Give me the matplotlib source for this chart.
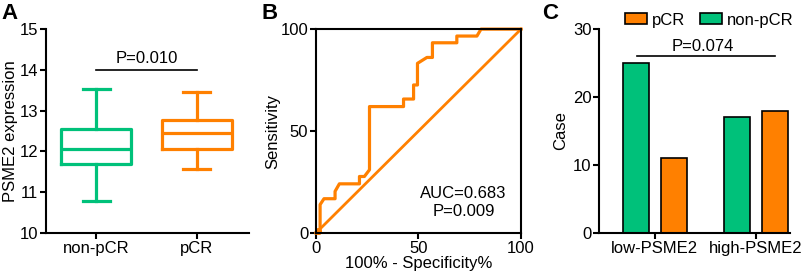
import numpy as np
import matplotlib.pyplot as plt
from matplotlib.patches import Patch

plt.rcParams['font.family'] = ['Liberation Sans', 'DejaVu Sans']
plt.rcParams['font.size'] = 12

green = '#00C17A'
orange = '#FF8000'

# A: box plot summary (whisker low, Q1, median, Q3, whisker high)
box_groups = ['non-pCR', 'pCR']
box_stats = [[10.78, 11.68, 12.05, 12.55, 13.52],
             [11.58, 12.07, 12.45, 12.78, 13.45]]
box_colors = [green, orange]

# B: ROC curve
roc_fpr = [0, 2.0, 2.0, 3.9, 9.3, 9.3, 11.4, 21.2, 21.2, 23.6, 26.1, 26.1, 42.7, 42.7,
           47.6, 47.6, 49.5, 49.5, 54.1, 56.8, 56.8, 68.7, 68.7, 78.5, 80.5, 100]
roc_tpr = [0, 0, 13.9, 16.8, 16.8, 20.4, 24.1, 24.1, 27.7, 27.7, 31.0, 62.0, 62.0, 65.7,
           65.7, 72.6, 72.6, 83.2, 86.1, 86.1, 93.3, 93.3, 96.6, 96.6, 100, 100]

# C: case counts
bar_groups = ['low-PSME2', 'high-PSME2']
pcr_cases = [11, 18]
nonpcr_cases = [25, 17]

fig = plt.figure(figsize=(8.09, 2.8), dpi=100)
bottom, height = 0.168, 0.728
axA = fig.add_axes([0.0569, bottom, 0.2509, height])
axB = fig.add_axes([0.3906, bottom, 0.2534, height])
axC = fig.add_axes([0.7404, bottom, 0.2361, height])

# ---- A ----
bxp = []
for name, s in zip(box_groups, box_stats):
    bxp.append({'label': name, 'whislo': s[0], 'q1': s[1], 'med': s[2],
                'q3': s[3], 'whishi': s[4], 'fliers': []})
res = axA.bxp(bxp, positions=[0, 1], widths=0.7, showfliers=False,
              patch_artist=False)
for i, c in enumerate(box_colors):
    for key in ['boxes', 'medians']:
        res[key][i].set_color(c)
        res[key][i].set_linewidth(2.3)
    for key in ['whiskers', 'caps']:
        for ln in res[key][2 * i:2 * i + 2]:
            ln.set_color(c)
            ln.set_linewidth(2.3)
for ln in res['caps']:
    x = ln.get_xdata()
    m = x.mean()
    ln.set_xdata([m - 0.135, m + 0.135])
axA.set_xlim(-0.5, 1.52)
axA.set_ylim(10, 15)
axA.set_yticks([10, 11, 12, 13, 14, 15])
axA.set_xticks([0, 1])
axA.set_xticklabels(box_groups)
axA.set_ylabel('PSME2 expression', labelpad=1)
axA.plot([0, 1], [14.0, 14.0], color='black', lw=1.2)
axA.text(0.5, 14.1, 'P=0.010', ha='center', va='bottom')
for sp in ['top', 'right']:
    axA.spines[sp].set_visible(False)

# ---- B ----
axB.plot(roc_fpr, roc_tpr, color=orange, lw=2.3, clip_on=False)
axB.plot([0, 100], [0, 100], color=orange, lw=2.0, clip_on=False)
axB.plot([0.8], [0.8], 'o', color=orange, ms=4, clip_on=False)
axB.set_xlim(0, 100)
axB.set_ylim(0, 100)
axB.set_xticks([0, 50, 100])
axB.set_yticks([0, 50, 100])
axB.set_xlabel('100% - Specificity%', labelpad=0)
axB.set_ylabel('Sensitivity', labelpad=0)
axB.text(72, 19.6, 'AUC=0.683', ha='center', va='center')
axB.text(72, 10.3, 'P=0.009', ha='center', va='center')

# ---- C ----
x = np.arange(len(bar_groups))
w = 0.257
axC.bar(x - 0.188, nonpcr_cases, w, color=green, edgecolor='black', lw=1.2)
axC.bar(x + 0.188, pcr_cases, w, color=orange, edgecolor='black', lw=1.2)
axC.set_xlim(-0.555, 1.34)
axC.set_ylim(0, 30)
axC.set_yticks([0, 10, 20, 30])
axC.set_xticks(x)
axC.set_xticklabels(bar_groups)
axC.set_ylabel('Case', labelpad=3)
axC.plot([-0.18, 1.19], [26.0, 26.0], color='black', lw=1.2)
axC.text(0.475, 26.4, 'P=0.074', ha='center', va='bottom')
for sp in ['top', 'right']:
    axC.spines[sp].set_visible(False)
handles = [Patch(facecolor=orange, edgecolor='black', lw=1.2, label='pCR'),
           Patch(facecolor=green, edgecolor='black', lw=1.2, label='non-pCR')]
axC.legend(handles=handles, ncol=2, frameon=False, loc='center',
           bbox_to_anchor=(0.576, 1.044), handlelength=1.35, handleheight=0.6,
           columnspacing=0.9, handletextpad=0.25, borderaxespad=0, borderpad=0)

for ax in [axA, axB, axC]:
    for sp in ax.spines.values():
        sp.set_linewidth(1.5)
    ax.tick_params(width=1.5, length=4.5, labelsize=12, pad=1)

fig.text(0.002, 0.99, 'A', fontsize=16, fontweight='bold', va='top')
fig.text(0.323, 0.99, 'B', fontsize=16, fontweight='bold', va='top')
fig.text(0.670, 0.99, 'C', fontsize=16, fontweight='bold', va='top')

fig.savefig('out.png', dpi=100)
